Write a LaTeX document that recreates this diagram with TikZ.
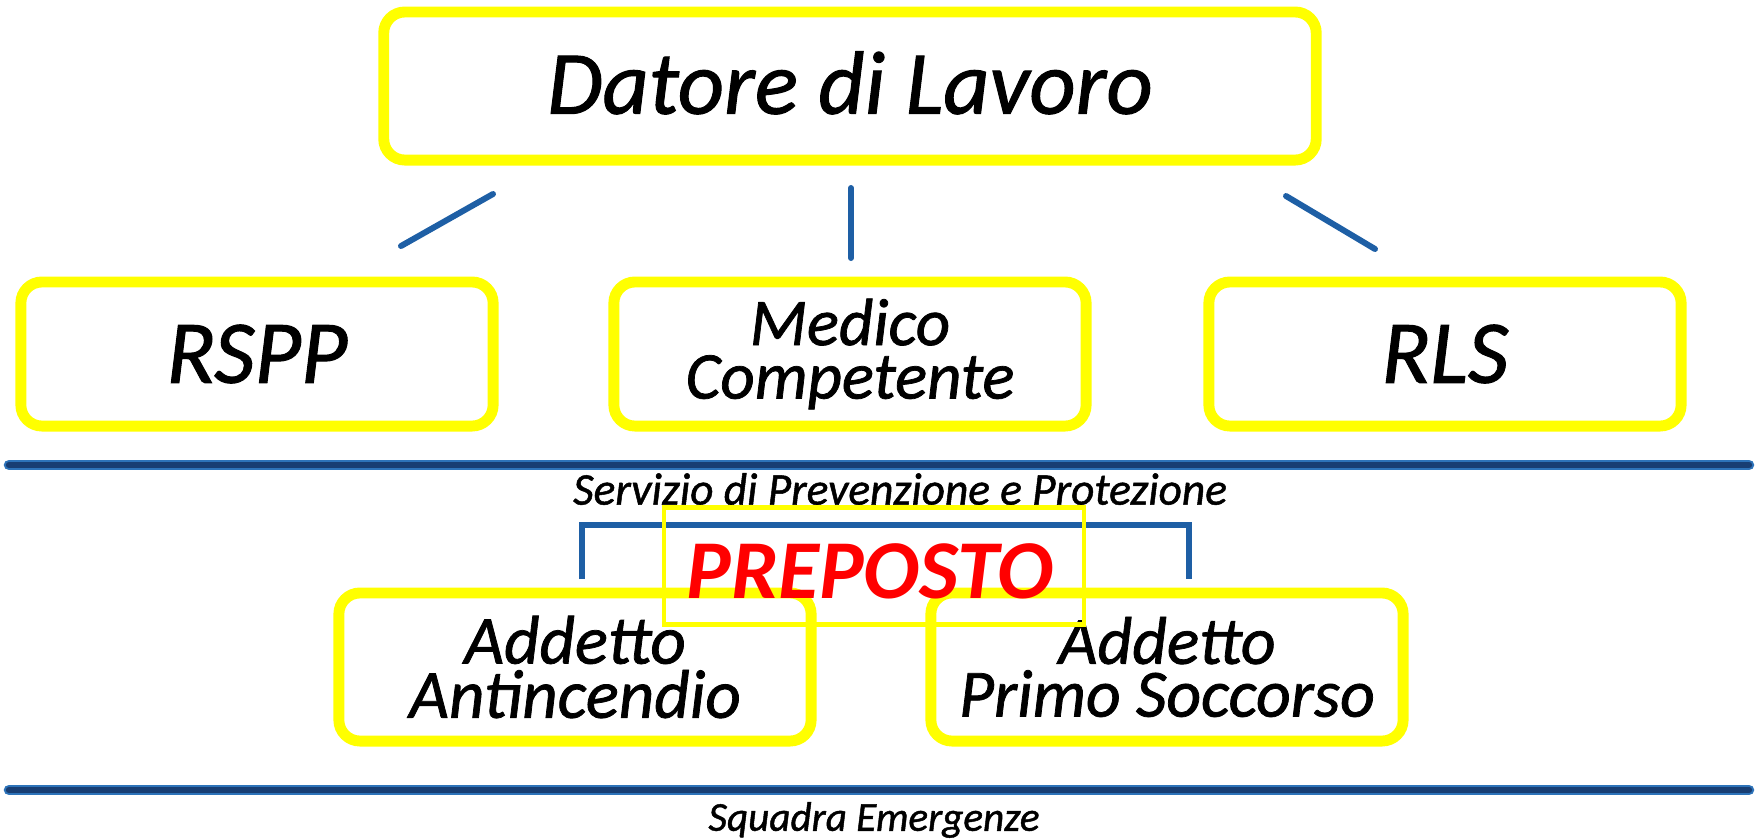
\documentclass[tikz,border=0pt]{standalone}
\usepackage{fontspec}
\setmainfont{Carlito}
\newfontfamily\carl{Carlito}[FakeBold=1.1]
\usetikzlibrary{positioning,calc}

\definecolor{giallo}{RGB}{255,255,0}
\definecolor{blu}{RGB}{30,95,165}
\definecolor{bluchiaro}{RGB}{45,115,185}
\definecolor{bluscuro}{RGB}{24,62,115}
\definecolor{rosso}{RGB}{255,0,0}

\tikzset{
  box/.style={draw=giallo,line width=3.1pt,rounded corners=6pt,fill=white,
    minimum width=4.72cm,minimum height=1.44cm,inner sep=0pt,align=center},
  link/.style={draw=blu,line width=1.7pt,line cap=round},
  rule/.style={draw=bluchiaro,double=bluscuro,line width=0.6pt,
    double distance=1.8pt,line cap=round},
  caption/.style={inner sep=0pt}
}

\begin{document}
\begin{tikzpicture}[x=0.01cm,y=-0.01cm]
  \useasboundingbox (0,0) rectangle (1756,838);
  % vertici
  \node[box,minimum width=9.32cm,minimum height=1.48cm,
    font=\fontsize{25.6}{28}\carl\itshape] (datore) at (850,86) {\raisebox{2pt}{Datore di Lavoro}};
  \node[box,font=\fontsize{25.5}{28}\carl\itshape] (rspp) at (257,354) {RSPP};
  \node[box,font=\fontsize{19}{15.2}\carl\itshape] (medico) at (850,354) {Medico\\Competente};
  \node[box,font=\fontsize{25.5}{28}\carl\itshape] (rls) at (1445,354) {RLS};
  % collegamenti
  \coordinate (la) at (493,194);
  \coordinate (lb) at (401,246);
  \coordinate (ma) at (851,188);
  \coordinate (mb) at (851,258);
  \coordinate (ra) at (1286,196);
  \coordinate (rb) at (1375,249);
  \foreach \a/\b in {la/lb,ma/mb,ra/rb}
    \draw[link] (\a) -- (\b);
  % servizio di prevenzione
  \coordinate (s1) at (9,465);
  \coordinate (s2) at (1749,465);
  \draw[rule] (s1) -- (s2);
  \node[caption,font=\fontsize{12.9}{14}\carl\itshape] (spp) at (900,489)
    {Servizio di Prevenzione e Protezione};
  % squadra
  \node[box,minimum height=1.48cm,font=\fontsize{19.6}{15.4}\carl\itshape]
    (antinc) at (575,667) {Addetto\\Antincendio};
  \node[box,minimum height=1.48cm,font=\fontsize{19.2}{15}\carl\itshape]
    (soccorso) at (1167,667) {\raisebox{-4pt}{Addetto}\\\raisebox{-4pt}{Primo Soccorso}};
  \coordinate (b1) at (582,579);
  \coordinate (b2) at (582,525);
  \coordinate (b3) at (1189,525);
  \coordinate (b4) at (1189,579);
  \draw[link,line cap=butt] (b1) -- (b2) -- (b3) -- (b4);
  \node[draw=giallo,line width=1.2pt,minimum width=4.19cm,minimum height=1.17cm,
    inner sep=0pt] (prepbox) at (874,566) {};
  \node[text=rosso,inner sep=0pt,font=\fontsize{23.8}{26}\selectfont\bfseries\itshape]
    (preposto) at (870,571) {PREPOSTO};
  \coordinate (e1) at (9,790);
  \coordinate (e2) at (1749,790);
  \draw[rule] (e1) -- (e2);
  \node[caption,font=\fontsize{11.7}{14}\carl\itshape] (squadra) at (874,820)
    {Squadra Emergenze};
\end{tikzpicture}
\end{document}
